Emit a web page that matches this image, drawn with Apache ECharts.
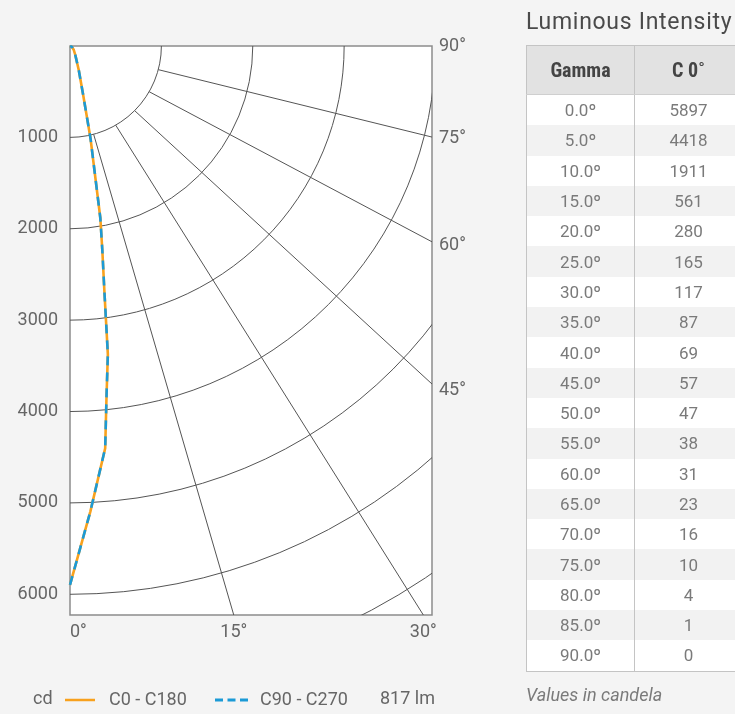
<!DOCTYPE html>
<html>
<head>
<meta charset="utf-8">
<script src="https://cdn.jsdelivr.net/npm/echarts@6/dist/echarts.min.js"></script>
<style>
html,body{margin:0;padding:0;background:#f4f4f4;width:735px;height:714px;overflow:hidden;}
#chart{position:absolute;left:0;top:0;width:735px;height:714px;}
#title{position:absolute;left:526px;top:8px;font-family:Roboto,sans-serif;font-size:23px;letter-spacing:0.7px;color:#4a4a4a;white-space:nowrap;line-height:27px;}
#tbl{position:absolute;left:526px;top:45px;border-collapse:collapse;table-layout:fixed;width:217px;border:1px solid #c4c4c4;}
#tbl th{height:48px;padding:0;background:#e2e2e2;color:#444;font-family:"Liberation Sans Narrow","Roboto",sans-serif;font-stretch:condensed;font-weight:bold;font-size:20px;text-align:center;border-right:1px solid #c4c4c4;border-bottom:1px solid #cfcfcf;}
#tbl td{height:30.3px;padding:0;text-align:center;font-family:Roboto,sans-serif;font-size:17px;color:#7a7a7a;border-right:1px solid #c4c4c4;}
#tbl tbody tr:nth-child(odd) td{background:#ffffff;}
#tbl tbody tr:nth-child(even) td{background:#f2f2f2;}
#note{position:absolute;left:526px;top:684px;font-family:Roboto,sans-serif;font-style:italic;font-size:18px;color:#7a7a7a;line-height:22px;white-space:nowrap;}
</style>
</head>
<body>
<div id="chart"></div>
<div id="title">Luminous Intensity</div>
<table id="tbl"><thead><tr><th>Gamma</th><th>C 0˚</th></tr></thead><tbody></tbody></table>
<div id="note">Values in candela</div>
<script>
// ---- data ----
var tableGamma = [0, 5, 10, 15, 20, 25, 30, 35, 40, 45, 50, 55, 60, 65, 70, 75, 80, 85, 90];
var tableC0 = [5897, 4418, 1911, 561, 280, 165, 117, 87, 69, 57, 47, 38, 31, 23, 16, 10, 4, 1, 0];

var curveGamma = [0, 2.5, 5, 6, 7, 8, 9, 10, 12.5, 15, 20, 25, 30, 35, 40, 45, 50, 55, 60, 65, 70, 75, 80, 85, 90];
var c0c180 = [5897, 5100, 4418, 3830, 3400, 2700, 2260, 1911, 1040, 561, 280, 165, 117, 87, 69, 57, 47, 38, 31, 23, 16, 10, 4, 1, 0];
var c90c270 = [5897, 5100, 4418, 3830, 3400, 2700, 2260, 1911, 1040, 561, 280, 165, 117, 87, 69, 57, 47, 38, 31, 23, 16, 10, 4, 1, 0];

var ringValues = [1000, 2000, 3000, 4000, 5000, 6000, 7000];
var rayAngles = [15, 30, 45, 60, 75];
var angleLabels = [0, 15, 30, 45, 60, 75, 90];
var legendNames = ['C0 - C180', 'C90 - C270'];
var unitText = 'cd';
var fluxText = '817 lm';

// ---- table ----
var tb = document.querySelector('#tbl tbody');
tableGamma.forEach(function (g, i) {
  var tr = document.createElement('tr');
  var a = document.createElement('td'); a.textContent = g.toFixed(1) + 'º';
  var b = document.createElement('td'); b.textContent = String(tableC0[i]);
  tr.appendChild(a); tr.appendChild(b); tb.appendChild(tr);
});

// ---- chart ----
var GRID = { left: 70, top: 46, width: 362, height: 569 };
var pxPerCd = 548.3 / 6000;
var rayStretch = 1.078, rayLen = 9000, innerR = 1000, labelStretch = 1.05;
var ORANGE = '#f8a11d', BLUE = '#1b9ad6', GRIDC = '#555555', TXT = '#666666';
var FONT = 'Roboto';

function toXY(vals) {
  return curveGamma.map(function (g, i) {
    var t = g * Math.PI / 180;
    return [vals[i] * Math.sin(t), vals[i] * Math.cos(t)];
  });
}

var chart = echarts.init(document.getElementById('chart'), null, { renderer: 'canvas' });
var option = {
  backgroundColor: 'transparent',
  animation: false,
  grid: { left: GRID.left, top: GRID.top, width: GRID.width, height: GRID.height, show: true,
    backgroundColor: '#ffffff', borderColor: '#8c8c8c', borderWidth: 1.5 },
  xAxis: { type: 'value', min: 0, max: GRID.width / pxPerCd, show: false },
  yAxis: {
    type: 'value', inverse: true, min: 0, max: GRID.height / pxPerCd, interval: 1000,
    axisLine: { show: false }, axisTick: { show: false }, splitLine: { show: false },
    axisLabel: { fontSize: 18, color: TXT, fontFamily: FONT, margin: 12,
      formatter: function (v) { return (v > 0 && v % 1000 === 0) ? String(v) : ''; } }
  },
  legend: [
    { data: [{ name: legendNames[0], icon: 'rect' }], left: 60, top: 686, itemWidth: 30, itemHeight: 2.5,
      selectedMode: false, textStyle: { fontSize: 18, color: TXT, fontFamily: FONT, padding: [0, 0, 0, 9] } },
    { data: [{ name: legendNames[1], icon: 'path://M0,0h8v3h-8zM12.5,0h8v3h-8zM25,0h8v3h-8z' }], left: 210, top: 686,
      itemWidth: 33, itemHeight: 3, selectedMode: false,
      textStyle: { fontSize: 18, color: TXT, fontFamily: FONT, padding: [0, 0, 0, 7] } }
  ],
  graphic: [
    { type: 'text', x: 33, y: 699, style: { text: unitText, fontSize: 18, fontFamily: FONT, fill: TXT, verticalAlign: 'middle' } },
    { type: 'text', x: 380, y: 699, style: { text: fluxText, fontSize: 18, fontFamily: FONT, fill: TXT, verticalAlign: 'middle' } }
  ],
  series: [
    {
      type: 'custom', name: 'rings', clip: true, silent: true, z: 1,
      data: ringValues.map(function (r) { return [r, 0]; }),
      renderItem: function (params, api) {
        var r = api.value(0);
        var c = api.coord([0, 0]);
        var rp = api.coord([r, 0])[0] - c[0];
        return { type: 'arc', shape: { cx: c[0], cy: c[1], r: rp, startAngle: 0, endAngle: Math.PI / 2, clockwise: true },
          style: { stroke: GRIDC, fill: null, lineWidth: 1 } };
      }
    },
    {
      type: 'custom', name: 'rays', clip: true, silent: true, z: 1,
      data: rayAngles.map(function (a) { return [a, 0]; }),
      renderItem: function (params, api) {
        var t = api.value(0) * Math.PI / 180;
        var s = api.coord([innerR * Math.sin(t), innerR * Math.cos(t)]);
        var e = api.coord([rayStretch * rayLen * Math.sin(t), rayLen * Math.cos(t)]);
        return { type: 'line', shape: { x1: s[0], y1: s[1], x2: e[0], y2: e[1] },
          style: { stroke: GRIDC, lineWidth: 1 } };
      }
    },
    {
      type: 'custom', name: 'angleLabels', clip: false, silent: true, z: 3,
      data: angleLabels.map(function (a) { return [a, 0]; }),
      renderItem: function (params, api) {
        var a = api.value(0);
        var t = a * Math.PI / 180;
        var s = api.coord([innerR * Math.sin(t), innerR * Math.cos(t)]);
        var e = api.coord([rayStretch * rayLen * Math.sin(t), rayLen * Math.cos(t)]);
        var o = api.coord([0, 0]);
        var cs = params.coordSys;
        var right = cs.x + cs.width, bottom = cs.y + cs.height;
        var dx = e[0] - s[0], dy = e[1] - s[1];
        var tR = dx > 1e-9 ? (right - s[0]) / dx : Infinity;
        var tB = dy > 1e-9 ? (bottom - s[1]) / dy : Infinity;
        var x, y, align;
        if (tB <= tR) {
          x = s[0] + tB * dx; y = bottom + 17;
          align = (x - cs.x < 8) ? 'left' : 'center';
        } else {
          var ldx = labelStretch * Math.sin(t), ldy = Math.cos(t);
          x = right + 7; y = o[1] + (right - o[0]) * ldy / ldx; align = 'left';
        }
        return { type: 'text', x: x, y: y,
          style: { text: a + '°', fontSize: 18, fontFamily: FONT, fill: TXT, align: align, verticalAlign: 'middle' } };
      }
    },
    {
      type: 'line', name: legendNames[0], data: toXY(c0c180), symbol: 'none', z: 4,
      itemStyle: { color: ORANGE }, lineStyle: { color: ORANGE, width: 2.6 }
    },
    {
      type: 'line', name: legendNames[1], data: toXY(c90c270), symbol: 'none', z: 5,
      itemStyle: { color: BLUE }, lineStyle: { color: BLUE, width: 2.6, type: [9, 7] }
    }
  ]
};
chart.setOption(option);
</script>
</body>
</html>
